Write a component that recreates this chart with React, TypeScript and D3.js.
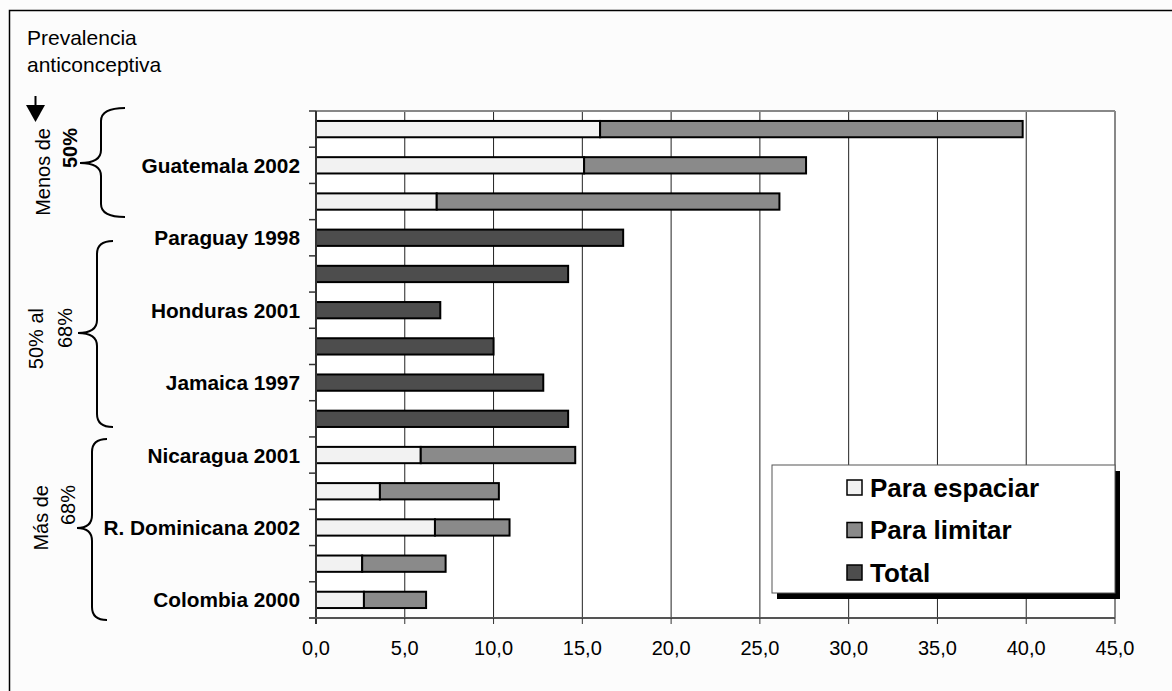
import React from "react";
import * as d3 from "d3";

const categories = ["", "Guatemala 2002", "", "Paraguay 1998", "", "Honduras 2001", "", "Jamaica 1997", "", "Nicaragua 2001", "", "R. Dominicana 2002", "", "Colombia 2000"];
const espaciar: (number | null)[] = [16.0, 15.1, 6.8, null, null, null, null, null, null, 5.9, 3.6, 6.7, 2.6, 2.7];
const limitar: (number | null)[] = [23.8, 12.5, 19.3, null, null, null, null, null, null, 8.7, 6.7, 4.2, 4.7, 3.5];
const total: (number | null)[] = [null, null, null, 17.3, 14.2, 7.0, 10.0, 12.8, 14.2, null, null, null, null, null];
const xTicks = [0, 5, 10, 15, 20, 25, 30, 35, 40, 45];
const seriesNames = ["Para espaciar", "Para limitar", "Total"];
const seriesColors = ["#f2f2f2", "#8a8a8a", "#4d4d4d"];

const groups = [
  { lines: ["Menos de", "50%"], bold: [false, true], top: 128, x: [50, 77], brace: { tip: 80, spine: 101, end: 125, top: 108, mid: 163, bot: 217 } },
  { lines: ["50% al", "68%"], bold: [false, false], top: 308, x: [43, 72], brace: { tip: 78, spine: 97, end: 113, top: 241, mid: 333, bot: 427 } },
  { lines: ["Más de", "68%"], bold: [false, false], top: 485, x: [48, 75], brace: { tip: 77, spine: 92, end: 107, top: 439, mid: 528, bot: 620 } },
];

const W = 1172, H = 691;
const plot = { left: 316, right: 1115, top: 111, bottom: 618 };
const FONT = "'Liberation Sans', Arial, sans-serif";

function bracePath(b: { tip: number; spine: number; end: number; top: number; mid: number; bot: number }) {
  const r = 13;
  return `M${b.end},${b.top} Q${b.spine},${b.top} ${b.spine},${b.top + r} L${b.spine},${b.mid - r} Q${b.spine},${b.mid} ${b.tip},${b.mid} Q${b.spine},${b.mid} ${b.spine},${b.mid + r} L${b.spine},${b.bot - r} Q${b.spine},${b.bot} ${b.end},${b.bot}`;
}

export default function App() {
  const x = d3.scaleLinear().domain([0, 45]).range([plot.left, plot.right]);
  const idx = categories.map((_, i) => String(i));
  const y = d3.scaleBand().domain(idx).range([plot.top, plot.bottom]).paddingInner(0.55).paddingOuter(0.275);
  const step = (plot.bottom - plot.top) / categories.length;

  const bars: React.ReactNode[] = [];
  categories.forEach((_, i) => {
    const yy = y(String(i))!;
    const h = y.bandwidth();
    let acc = 0;
    const segs: [number | null, number][] = [[espaciar[i], 0], [limitar[i], 1], [total[i], 2]];
    segs.forEach(([v, s]) => {
      if (v == null) return;
      bars.push(
        <rect key={`b${i}-${s}`} x={x(acc)} y={yy} width={x(acc + v) - x(acc)} height={h}
          fill={seriesColors[s]} stroke="#000" strokeWidth={2} />
      );
      acc += v;
    });
  });

  return (
    <svg width={W} height={H} style={{ position: "absolute", left: 0, top: 0, fontFamily: FONT }}>
      <rect x={0} y={0} width={W} height={H} fill="#fcfcfc" />
      <path d={`M9.5,${H + 5} L9.5,10.5 L${W + 5},10.5`} fill="none" stroke="#000" strokeWidth={1.5} />
      <rect x={plot.left} y={plot.top} width={plot.right - plot.left} height={plot.bottom - plot.top} fill="#fff" />
      {xTicks.slice(1, -1).map((t) => (
        <line key={`g${t}`} x1={x(t)} x2={x(t)} y1={plot.top} y2={plot.bottom} stroke="#222" strokeWidth={1} />
      ))}
      <line x1={plot.left} x2={plot.right} y1={plot.top} y2={plot.top} stroke="#888" strokeWidth={2} />
      <line x1={plot.right} x2={plot.right} y1={plot.top} y2={plot.bottom} stroke="#888" strokeWidth={2} />
      {bars}
      <line x1={plot.left} x2={plot.left} y1={plot.top} y2={plot.bottom + 6} stroke="#333" strokeWidth={2} />
      {d3.range(categories.length + 1).map((k) => (
        <line key={`yt${k}`} x1={plot.left - 7} x2={plot.left} y1={plot.top + k * step} y2={plot.top + k * step} stroke="#333" strokeWidth={1.5} />
      ))}
      <line x1={plot.left - 7} x2={plot.right} y1={plot.bottom} y2={plot.bottom} stroke="#555" strokeWidth={2} />
      {xTicks.map((t) => (
        <g key={`xt${t}`}>
          <line x1={x(t)} x2={x(t)} y1={plot.bottom} y2={plot.bottom + 6} stroke="#333" strokeWidth={1} />
          <text x={x(t)} y={655} textAnchor="middle" fontSize={20} fill="#000">{d3.format(".1f")(t).replace(".", ",")}</text>
        </g>
      ))}
      {categories.map((c, i) => c ? (
        <text key={`c${i}`} x={300} y={y(String(i))! + y.bandwidth() / 2} dy="0.36em" textAnchor="end" fontSize={20.8} fontWeight="bold">{c}</text>
      ) : null)}
      {/* legend */}
      <rect x={777} y={471} width={343} height={128} fill="#000" />
      <rect x={772} y={465} width={343} height={128} fill="#fff" stroke="#555" strokeWidth={1} />
      {seriesNames.map((n, k) => (
        <g key={`l${k}`}>
          <rect x={847} y={480 + k * 42.5} width={15} height={15} fill={seriesColors[k]} stroke="#000" strokeWidth={1.5} />
          <text x={870} y={487.5 + k * 42.5} dy="0.36em" fontSize={26} fontWeight="bold">{n}</text>
        </g>
      ))}
      {/* title */}
      <text x={27} y={45} fontSize={21}>Prevalencia</text>
      <text x={27} y={72} fontSize={21}>anticonceptiva</text>
      <line x1={35.5} x2={35.5} y1={96} y2={108} stroke="#000" strokeWidth={2} />
      <path d="M26,105 L45,105 L35.5,122 Z" fill="#000" />
      {groups.map((g, gi) => (
        <g key={`grp${gi}`}>
          <path d={bracePath(g.brace)} fill="none" stroke="#000" strokeWidth={2} />
          {g.lines.map((ln, li) => (
            <text key={li} transform={`translate(${g.x[li]},${g.top}) rotate(-90)`} textAnchor="end" fontSize={20} fontWeight={g.bold[li] ? "bold" : "normal"}>{ln}</text>
          ))}
        </g>
      ))}
    </svg>
  );
}
